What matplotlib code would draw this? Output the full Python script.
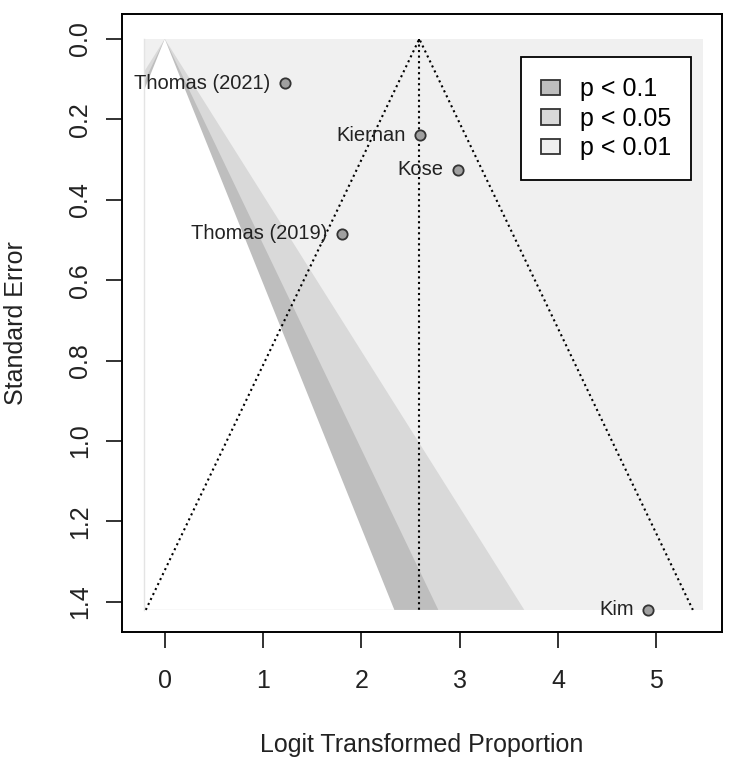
import matplotlib
matplotlib.use('Agg')
from matplotlib import pyplot as plt
from matplotlib.patches import Rectangle, Polygon, Patch
import numpy as np

plt.rcParams['font.family'] = ['Liberation Sans', 'DejaVu Sans']

# Studier: estimat (logit) og standardfeil
studier = ['Thomas (2021)', 'Kiernan', 'Kose', 'Thomas (2019)', 'Kim']
estimat = [1.22, 2.60, 2.98, 1.80, 4.92]
std_feil = [0.11, 0.24, 0.325, 0.485, 1.42]

# Samlet estimat
samlet = 2.59

# Konturnivåer (z-verdier) og etiketter
z_niva = [1.645, 1.96, 2.576]
niva_tekst = ['p < 0.1', 'p < 0.05', 'p < 0.01']
farger = ['#BEBEBE', '#D9D9D9', '#F0F0F0']

# Område for skyggelegging
x_min, x_max = -0.21, 5.48
se_max = 1.42

fig = plt.figure(figsize=(7.5, 7.62), dpi=100)
ax = fig.add_axes([0.1627, 0.1706, 0.8, 0.811])

bak = Rectangle((x_min, 0), x_max - x_min, se_max, facecolor=farger[2],
                edgecolor='none', zorder=0)
ax.add_patch(bak)

# Konturer fra ytterst til innerst
for z, farge in zip(z_niva[::-1], [farger[1], farger[0], 'white']):
    poly = Polygon([(0, 0), (-z*se_max, se_max), (z*se_max, se_max)],
                   closed=True, facecolor=farge, edgecolor='none', zorder=1)
    ax.add_patch(poly)
    poly.set_clip_path(bak)
ax.plot([x_min, x_min], [0, se_max], color='#E4E4E4', lw=1, zorder=1)

# Trakt rundt samlet estimat
ax.plot([samlet - 1.96*se_max, samlet, samlet + 1.96*se_max],
        [se_max, 0, se_max], 'k:', lw=1.5, zorder=2)
ax.plot([samlet, samlet], [0, se_max], 'k:', lw=1.5, zorder=2)

# Studiene
ax.scatter(estimat, std_feil, s=55, facecolor='#A0A0A0', edgecolor='#333333',
           linewidth=1.3, zorder=3)
for navn, x, y in zip(studier, estimat, std_feil):
    ax.text(x - 0.15, y, navn, ha='right', va='center', fontsize=14.5,
            color='#222222', zorder=3)

ax.set_xlim(-0.435, 5.67)
ax.set_ylim(1.475, -0.062)
ax.set_xticks(range(0, 6))
ax.set_yticks(np.arange(0, 1.41, 0.2))
ax.set_yticklabels([f'{v:.1f}' for v in np.arange(0, 1.41, 0.2)],
                   rotation=90, va='center')
ax.tick_params(labelsize=18, length=11.5, width=1.3, colors='#222222')
ax.tick_params(axis='x', pad=15)
ax.tick_params(axis='y', pad=10)
for s in ax.spines.values():
    s.set_linewidth(1.4)

ax.set_xlabel('Logit Transformed Proportion', fontsize=18, labelpad=29,
              color='#222222')
ax.set_ylabel('Standard Error', fontsize=18, labelpad=29, color='#222222')

handles = [Patch(facecolor=f, edgecolor='#333333', linewidth=1.3) for f in farger]
leg = ax.legend(handles, niva_tekst, loc='upper right', fontsize=18,
                bbox_to_anchor=(0.948, 0.930), borderaxespad=0, fancybox=False,
                framealpha=1, edgecolor='black', borderpad=0.8,
                handlelength=0.75, handleheight=0.6, handletextpad=0.8,
                labelspacing=0.22)
leg.get_frame().set_linewidth(1.3)

fig.savefig('out.png', dpi=100)
